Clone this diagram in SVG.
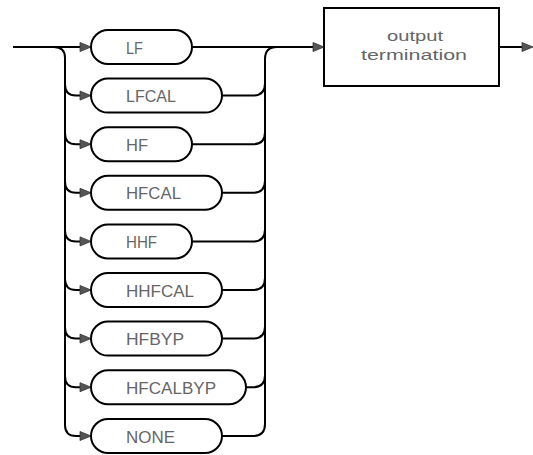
<svg xmlns="http://www.w3.org/2000/svg" width="533" height="455" viewBox="0 0 533 455">
<style>
.ln{fill:none;stroke:#000;stroke-width:2}
.pill{fill:#fff;stroke:#000;stroke-width:2}
.ar{fill:#555;stroke:#333;stroke-width:0.8}
.t{font-family:"Liberation Sans",Arial,sans-serif;font-size:16px;fill:#666}
.bt{font-family:"Liberation Sans",Arial,sans-serif;font-size:15px;fill:#666;text-anchor:middle}
</style>
<defs>
<path id="arw" d="M-11,-4.5 L0,0 L-11,4.5 Z"/>
</defs>
<rect width="533" height="455" fill="#fff"/>
<g id="connectors">
<path class="ln" d="M13,47 H81"/>
<path class="ln" d="M54,47 Q65,47 65,58 V425 Q65,436 76,436 H81"/>
<path class="ln" d="M65,84.6 Q65,95.6 76,95.6 H81"/>
<path class="ln" d="M65,133.2 Q65,144.2 76,144.2 H81"/>
<path class="ln" d="M65,181.8 Q65,192.8 76,192.8 H81"/>
<path class="ln" d="M65,230.4 Q65,241.4 76,241.4 H81"/>
<path class="ln" d="M65,279 Q65,290 76,290 H81"/>
<path class="ln" d="M65,327.6 Q65,338.6 76,338.6 H81"/>
<path class="ln" d="M65,376.2 Q65,387.2 76,387.2 H81"/>
<use href="#arw" class="ar" x="91" y="47"/>
<use href="#arw" class="ar" x="91" y="95.6"/>
<use href="#arw" class="ar" x="91" y="144.2"/>
<use href="#arw" class="ar" x="91" y="192.8"/>
<use href="#arw" class="ar" x="91" y="241.4"/>
<use href="#arw" class="ar" x="91" y="290"/>
<use href="#arw" class="ar" x="91" y="338.6"/>
<use href="#arw" class="ar" x="91" y="387.2"/>
<use href="#arw" class="ar" x="91" y="436"/>
<path class="ln" d="M192,47 H314"/>
<path class="ln" d="M277,47 Q265,47 265,59 V424 Q265,436 253,436 H222"/>
<path class="ln" d="M222,95.6 H253 Q265,95.6 265,83.6"/>
<path class="ln" d="M192,144.2 H253 Q265,144.2 265,132.2"/>
<path class="ln" d="M222,192.8 H253 Q265,192.8 265,180.8"/>
<path class="ln" d="M192,241.4 H253 Q265,241.4 265,229.4"/>
<path class="ln" d="M222,290 H253 Q265,290 265,278"/>
<path class="ln" d="M222,338.6 H253 Q265,338.6 265,326.6"/>
<path class="ln" d="M246,387.2 H253 Q265,387.2 265,375.2"/>
<use href="#arw" class="ar" x="324" y="47"/>
<path class="ln" d="M499,47 H523"/>
<use href="#arw" class="ar" x="533" y="47"/>
</g>
<g id="n-lf"><rect class="pill" x="91" y="30" width="101" height="34" rx="17"/><text class="t" x="126" y="53.5" textLength="17" lengthAdjust="spacingAndGlyphs">LF</text></g>
<g id="n-lfcal"><rect class="pill" x="91" y="78.6" width="131" height="34" rx="17"/><text class="t" x="126" y="102.1" textLength="50" lengthAdjust="spacingAndGlyphs">LFCAL</text></g>
<g id="n-hf"><rect class="pill" x="91" y="127.2" width="101" height="34" rx="17"/><text class="t" x="126" y="150.7" textLength="22" lengthAdjust="spacingAndGlyphs">HF</text></g>
<g id="n-hfcal"><rect class="pill" x="91" y="175.8" width="131" height="34" rx="17"/><text class="t" x="126" y="199.3" textLength="55" lengthAdjust="spacingAndGlyphs">HFCAL</text></g>
<g id="n-hhf"><rect class="pill" x="91" y="224.4" width="101" height="34" rx="17"/><text class="t" x="126" y="247.9" textLength="31" lengthAdjust="spacingAndGlyphs">HHF</text></g>
<g id="n-hhfcal"><rect class="pill" x="91" y="273" width="131" height="34" rx="17"/><text class="t" x="126" y="296.5" textLength="68" lengthAdjust="spacingAndGlyphs">HHFCAL</text></g>
<g id="n-hfbyp"><rect class="pill" x="91" y="321.6" width="131" height="34" rx="17"/><text class="t" x="126" y="345.1" textLength="58" lengthAdjust="spacingAndGlyphs">HFBYP</text></g>
<g id="n-hfcalbyp"><rect class="pill" x="91" y="370.2" width="155" height="34" rx="17"/><text class="t" x="126" y="393.7" textLength="90" lengthAdjust="spacingAndGlyphs">HFCALBYP</text></g>
<g id="n-none"><rect class="pill" x="91" y="419" width="131" height="34" rx="17"/><text class="t" x="126" y="442.5" textLength="49" lengthAdjust="spacingAndGlyphs">NONE</text></g>
<g id="n-output"><rect x="324" y="8" width="175" height="78" fill="#fff" stroke="#000" stroke-width="2"/><text class="bt" x="415" y="40.5" textLength="56" lengthAdjust="spacingAndGlyphs">output</text><text class="bt" x="414" y="59.5" textLength="106" lengthAdjust="spacingAndGlyphs">termination</text></g>
</svg>
